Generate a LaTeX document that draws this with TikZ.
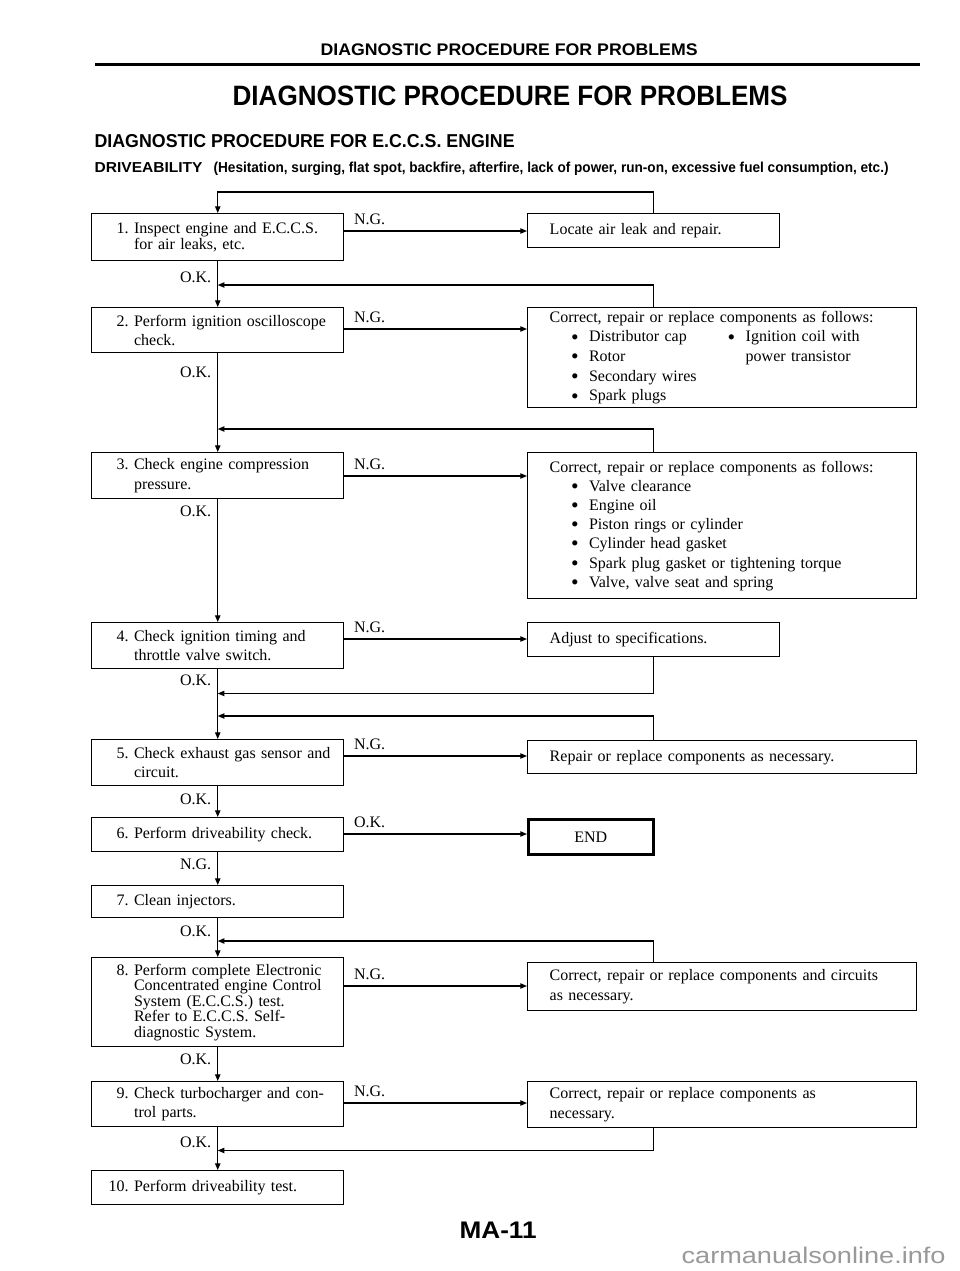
\documentclass[tikz,border=0pt]{standalone}
\usepackage{fontspec}
\usepackage{graphicx}
\setmainfont{Liberation Serif}
\newfontfamily\hdfont{Liberation Sans}
\usetikzlibrary{arrows.meta}
\newcommand{\bdot}{\makebox[13.5pt][l]{\raisebox{-1.6pt}{\scalebox{1.35}{\textbullet}}}}
\newcommand{\itm}[1]{\hspace*{16pt}\bdot#1}
\newcommand{\stepno}[1]{\makebox[21pt][r]{#1}\hspace{4pt}}
\newcommand{\indt}{\hspace*{25pt}}
\begin{document}
\begin{tikzpicture}[x=.75pt,y=-.75pt,line width=.9pt,font=\fontsize{12}{14.5}\selectfont,
  arr/.style={-{Triangle[length=5pt,width=4pt]}},
  lbox/.style={draw,line width=1.1pt,anchor=north west,text width=175.5pt,inner xsep=6.75pt,inner ysep=0pt,align=left},
  rbox/.style={draw,line width=1.1pt,anchor=north west,inner xsep=16.5pt,inner ysep=0pt,align=left,font=\fontsize{12}{15}\selectfont},
  rwide/.style={rbox,text width=258.75pt},
  rnarrow/.style={rbox,text width=156pt},
  lbl/.style={anchor=south west,inner sep=0pt,xshift=6.75pt,yshift=4.5pt},
  okl/.style={anchor=north east,inner sep=0pt,xshift=-4.5pt},
  hdtxt/.style={anchor=base west,inner sep=0pt}]
\path[use as bounding box,fill=white] (0,0) rectangle (960,1271);
% page heading
\node[hdtxt] (hd) at (320,55) {\resizebox{282.75pt}{\height}{\hdfont\bfseries\fontsize{12.6}{14}\selectfont DIAGNOSTIC PROCEDURE FOR PROBLEMS}};
\draw[line width=2.25pt] (95,64) -- (920,64);
\node[hdtxt] (ttl) at (232,105) {\resizebox{416.25pt}{\height}{\hdfont\bfseries\fontsize{21}{24}\selectfont DIAGNOSTIC PROCEDURE FOR PROBLEMS}};
\node[hdtxt] (sub) at (94,147) {\resizebox{315pt}{\height}{\hdfont\bfseries\fontsize{14}{16}\selectfont DIAGNOSTIC PROCEDURE FOR E.C.C.S. ENGINE}};
\node[hdtxt] (drv) at (94,172) {\resizebox{81pt}{\height}{\hdfont\bfseries\fontsize{10.8}{12}\selectfont DRIVEABILITY}};
\node[hdtxt] (drvx) at (213,172) {\resizebox{506.25pt}{\height}{\hdfont\bfseries\fontsize{10.8}{12}\selectfont (Hesitation, surging, flat spot, backfire, afterfire, lack of power, run-on, excessive fuel consumption, etc.)}};
% steps
\node[lbox,minimum height=35.25pt,font=\fontsize{12}{12}\selectfont] (b1) at (91,213) {\stepno{1.}Inspect engine and E.C.C.S.\\\indt for air leaks, etc.};
\node[lbox,minimum height=33.75pt] (b2) at (91,307) {\stepno{2.}Perform ignition oscilloscope\\\indt check.};
\node[lbox,minimum height=34.5pt] (b3) at (91,452) {\stepno{3.}Check engine compression\\\indt pressure.};
\node[lbox,minimum height=34.5pt] (b4) at (91,622) {\stepno{4.}Check ignition timing and\\\indt throttle valve switch.};
\node[lbox,minimum height=34.5pt] (b5) at (91,739) {\stepno{5.}Check exhaust gas sensor and\\\indt circuit.};
\node[lbox,minimum height=25.5pt] (b6) at (91,817) {\stepno{6.}Perform driveability check.};
\node[lbox,minimum height=24pt] (b7) at (91,885) {\stepno{7.}Clean injectors.};
\node[lbox,minimum height=66.75pt,font=\fontsize{12}{11.6}\selectfont] (b8) at (91,957) {\stepno{8.}Perform complete Electronic\\\indt Concentrated engine Control\\\indt System (E.C.C.S.) test.\\\indt Refer to E.C.C.S. Self-\\\indt diagnostic System.};
\node[lbox,minimum height=33.75pt] (b9) at (91,1081) {\stepno{9.}Check turbocharger and con-\\\indt trol parts.};
\node[lbox,minimum height=25.5pt] (b10) at (91,1170) {\stepno{10.}Perform driveability test.};
% remedies
\node[rnarrow,minimum height=25.5pt] (r1) at (527,213) {Locate air leak and repair.};
\node[rwide,minimum height=75pt,font=\fontsize{12}{14.75}\selectfont] (r2) at (527,307) {Correct, repair or replace components as follows:\\\makebox[133.5pt][l]{\itm{Distributor cap}}\bdot Ignition coil with\\\makebox[133.5pt][l]{\itm{Rotor}}\hspace*{13.5pt}power transistor\\\itm{Secondary wires}\\\itm{Spark plugs}};
\node[rwide,minimum height=109.5pt,font=\fontsize{12}{14.4}\selectfont] (r3) at (527,452) {Correct, repair or replace components as follows:\\\itm{Valve clearance}\\\itm{Engine oil}\\\itm{Piston rings or cylinder}\\\itm{Cylinder head gasket}\\\itm{Spark plug gasket or tightening torque}\\\itm{Valve, valve seat and spring}};
\node[rnarrow,minimum height=25.5pt] (r4) at (527,622) {Adjust to specifications.};
\node[rwide,minimum height=24.75pt] (r5) at (527,740) {Repair or replace components as necessary.};
\node[draw,line width=2pt,anchor=north west,minimum width=93.75pt,minimum height=26.25pt,inner sep=0pt] (en) at (527,818) {END};
\node[rwide,minimum height=36pt] (r8) at (527,962) {Correct, repair or replace components and circuits\\as necessary.};
\node[rwide,minimum height=34.5pt] (r9) at (527,1081) {Correct, repair or replace components as\\necessary.};
% main line
\foreach \a/\b/\l/\d in {b1/b2/O.K./7.5,b2/b3/O.K./9.75,b3/b4/O.K./4.5,b4/b5/O.K./3.75,b5/b6/O.K./5.25,b6/b7/N.G./4.5,b7/b8/O.K./5.25,b8/b9/O.K./4.5,b9/b10/O.K./6.75}
  \draw[arr] (\a.south) -- (\b.north) node[okl,yshift=-\d pt] at (\a.south) {\l};
% branches
\foreach \a/\b/\d/\l in {b1/r1/13.5/N.G.,b2/r2/16.5/N.G.,b3/r3/18/N.G.,b4/r4/12.75/N.G.,b5/r5/12.75/N.G.,b6/en/12.75/O.K.,b8/r8/21.75/N.G.,b9/r9/16.5/N.G.}
  \draw[arr] ([yshift=-\d pt]\a.north east) coordinate (s\a) -- node[lbl,pos=0] {\l} (s\a -| \b.west);
% returns
\draw[arr] (r1.north) -- ++(0,-21) -| (b1.north);
\draw[arr] (r2.north -| r1.north) |- ([yshift=16.5pt]b2.north);
\draw[arr] (r3.north -| r1.north) |- ([yshift=17.25pt]b3.north);
\draw[arr] (r4.south) |- ([yshift=-18pt]b4.south);
\draw[arr] (r5.north -| r1.north) |- ([yshift=17.25pt]b5.north);
\draw[arr] (r8.north -| r1.north) |- ([yshift=12pt]b8.north);
\draw[arr] (r9.south -| r1.north) |- ([yshift=-17.25pt]b9.south);
% page number
\node[hdtxt] (pg) at (459,1238) {\resizebox{57.75pt}{\height}{\hdfont\bfseries\fontsize{18}{20}\selectfont MA-11}};
\node[hdtxt,text=black!40] (wm) at (681,1263) {\resizebox{198pt}{\height}{\hdfont\fontsize{17}{20}\selectfont carmanualsonline.info}};
\end{tikzpicture}
\end{document}
